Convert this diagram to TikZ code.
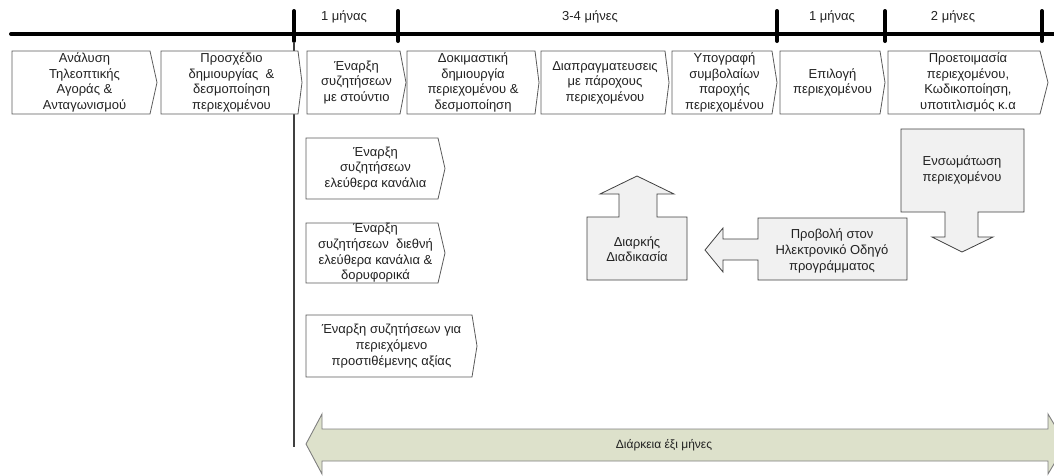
\documentclass[tikz,border=0pt]{standalone}
\usepackage{fontspec}
\setmainfont{Liberation Sans}
\definecolor{chevgray}{HTML}{5A5A5A}
\definecolor{textdark}{HTML}{222222}
\definecolor{boxgray}{HTML}{F1F1F1}
\definecolor{boxline}{HTML}{404040}
\definecolor{spanfill}{HTML}{DDE1CB}
\definecolor{spanline}{HTML}{7F7F7F}

% chevron step: name, left, top, right, bottom, tip x, text
\newcommand{\chevbox}[7]{%
  \draw[chev] (#2,#3) -- (#4,#3) -- (#6,{(#3+#5)/2}) -- (#4,#5) -- (#2,#5) -- cycle;
  \node[chevtext] (#1) at ({(#2+#6)/2},{(#3+#5)/2}) {#7};
}

\begin{document}
\begin{tikzpicture}[x=1pt,y=-1pt,
  chev/.style={draw=chevgray, line width=0.8pt, fill=white},
  chevtext/.style={align=center, font=\fontsize{13}{15.6}\selectfont, text=textdark, inner sep=0pt},
  grayshape/.style={draw=boxline, line width=0.8pt, fill=boxgray},
  timeline/.style={line width=4pt, line cap=round, black},
  tick/.style={line width=4pt, line cap=round, black},
  period/.style={font=\fontsize{13}{15}\selectfont, text=textdark, inner sep=0pt}]
\useasboundingbox (0,0) rectangle (1054,475);
\clip (0,0) rectangle (1054,475);

% time axis with period boundaries
\coordinate (axL) at (11,34);
\coordinate (axR) at (1060,34);
\draw[timeline] (axL) -- (axR);
\foreach \tx/\tn in {294/a,398/b,777/c,885/d,1042/e}{
  \coordinate (t\tn top) at (\tx,11);
  \coordinate (t\tn bot) at (\tx,41);
  \draw[tick] (t\tn top) -- (t\tn bot);
}
\node[period] (p1) at (344,17) {1 μήνας};
\node[period] (p2) at (590,17) {3-4 μήνες};
\node[period] (p3) at (832,17) {1 μήνας};
\node[period] (p4) at (953,17) {2 μήνες};

% start marker line
\coordinate (startTop) at (294,42);
\coordinate (startBot) at (294,447);
\draw[line width=1.2pt, boxline] (startTop) -- (startBot);

% main sequence of steps
\chevbox{s1}{12}{51}{150}{114}{157}{Ανάλυση\\Τηλεοπτικής\\Αγοράς \&\\Ανταγωνισμού}
\chevbox{s2}{161}{51}{298}{114}{302}{Προσχέδιο\\δημιουργίας \ \&\\δεσμοποίηση\\περιεχομένου}
\chevbox{s3}{307}{51}{400}{114}{406}{Έναρξη\\συζητήσεων\\με στούντιο}
\chevbox{s4}{407}{51}{535}{114}{539}{Δοκιμαστική\\δημιουργία\\περιεχομένου \&\\δεσμοποίηση}
\chevbox{s5}{541}{51}{665}{114}{669}{Διαπραγματευσεις\\με πάροχους\\περιεχομένου}
\chevbox{s6}{672}{51}{772}{114}{777}{Υπογραφή\\συμβολαίων\\παροχής\\περιεχομένου}
\chevbox{s7}{780}{51}{880}{114}{885}{Επιλογή\\περιεχομένου}
\chevbox{s8}{888}{51}{1040}{114}{1048}{Προετοιμασία\\περιεχομένου,\\Κωδικοποίηση,\\υποτιτλισμός κ.α}

% parallel negotiations
\chevbox{n1}{306}{138}{438}{199}{445}{Έναρξη\\συζητήσεων\\ελεύθερα κανάλια}
\chevbox{n2}{306}{223}{438}{283}{445}{Έναρξη\\συζητήσεων \ διεθνή\\ελεύθερα κανάλια \&\\δορυφορικά}
\chevbox{n3}{306}{315}{472}{377}{477}{Έναρξη συζητήσεων για\\περιεχόμενο\\προστιθέμενης αξίας}

% block arrows: integration -> EPG -> ongoing
\draw[grayshape] (901,129) -- (1024,129) -- (1024,212) -- (978,212) -- (978,237)
  -- (993,237) -- (962,252) -- (932,237) -- (945,237) -- (945,212) -- (901,212) -- cycle;
\node[chevtext] (ens) at (962,170) {Ενσωμάτωση\\περιεχομένου};

\draw[grayshape] (907,218) -- (907,280) -- (758,280) -- (758,260) -- (723,260)
  -- (723,272) -- (705,250) -- (723,228) -- (723,239) -- (758,239) -- (758,218) -- cycle;
\node[chevtext] (epg) at (832,251) {Προβολή στον\\Ηλεκτρονικό Οδηγό\\προγράμματος};

\draw[grayshape] (587,280) -- (587,217) -- (619,217) -- (619,194) -- (600,194)
  -- (637,176) -- (674,194) -- (657,194) -- (657,217) -- (687,217) -- (687,280) -- cycle;
\node[chevtext] (ong) at (637,249) {Διαρκής\\Διαδικασία};

% overall duration span
\draw[fill=spanfill, draw=spanline, line width=0.9pt]
  (306,444) -- (322,414) -- (322,429) -- (1048,429) -- (1048,414) -- (1066,444)
  -- (1048,474) -- (1048,461) -- (322,461) -- (322,474) -- cycle;
\node[font=\fontsize{12}{14}\selectfont, text=textdark, inner sep=0pt] (dur) at (664,445) {Διάρκεια έξι μήνες};
\end{tikzpicture}
\end{document}
